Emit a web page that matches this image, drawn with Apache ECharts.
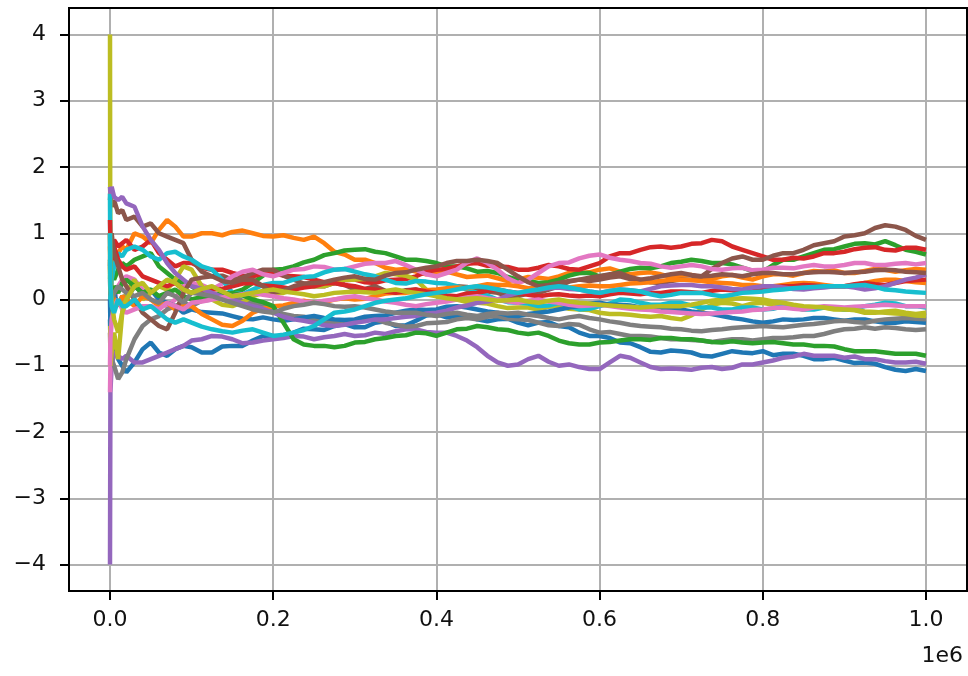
<!DOCTYPE html>
<html>
<head>
<meta charset="utf-8">
<script src="https://cdn.jsdelivr.net/npm/echarts@6/dist/echarts.min.js"></script>
<style>
html,body{margin:0;padding:0;background:#fff;}
#chart{width:968px;height:676px;}
</style>
</head>
<body>
<div id="chart"></div>
<script>
// x positions (step index) shared by all walks
const xs = [0, 500, 2000, 5000, 10000, 15000, 20000, 30000, 40000, 50000,
  60000, 70000, 80000, 90000,
  100000, 112500, 125000, 137500, 150000, 162500, 175000, 187500, 200000, 212500,
  225000, 237500, 250000, 262500, 275000, 287500, 300000, 312500, 325000, 337500,
  350000, 362500, 375000, 387500, 400000, 412500, 425000, 437500, 450000, 462500,
  475000, 487500, 500000, 512500, 525000, 537500, 550000, 562500, 575000, 587500,
  600000, 612500, 625000, 637500, 650000, 662500, 675000, 687500, 700000, 712500,
  725000, 737500, 750000, 762500, 775000, 787500, 800000, 812500, 825000, 837500,
  850000, 862500, 875000, 887500, 900000, 912500, 925000, 937500, 950000, 962500,
  975000, 987500, 1000000];

const xTicks = [0, 200000, 400000, 600000, 800000, 1000000];
const yTicks = [-4, -3, -2, -1, 0, 1, 2, 3, 4];
const offsetLabel = '1e6';

const walk0 = [-0.3, -0.6, -0.8, -0.7, -0.9, -1.0, -1.1, -0.95, -0.75, -0.65, -0.8, -0.85, -0.75, -0.7,
  -0.72, -0.8, -0.8, -0.71, -0.7, -0.7, -0.62, -0.55, -0.55, -0.56, -0.5, -0.44, -0.45, -0.46, -0.4, -0.37,
  -0.42, -0.42, -0.35, -0.33, -0.4, -0.39, -0.32, -0.24, -0.22, -0.27, -0.25, -0.24, -0.3, -0.33, -0.3, -0.29,
  -0.35, -0.39, -0.35, -0.34, -0.4, -0.42, -0.5, -0.55, -0.55, -0.58, -0.65, -0.66, -0.72, -0.79, -0.8, -0.77,
  -0.78, -0.8, -0.85, -0.86, -0.82, -0.78, -0.8, -0.81, -0.78, -0.84, -0.82, -0.82, -0.85, -0.9, -0.9, -0.88,
  -0.92, -0.96, -0.95, -0.97, -1.02, -1.06, -1.08, -1.05, -1.08];
const walk1 = [0.5, 0.3, 0.6, 0.5, 0.7, 0.8, 0.75, 1.0, 0.95, 0.85, 1.05, 1.2, 1.1, 0.95,
  0.95, 1.0, 1.0, 0.97, 1.02, 1.04, 1.0, 0.96, 0.95, 0.97, 0.93, 0.9, 0.95, 0.85, 0.72, 0.68,
  0.6, 0.6, 0.55, 0.48, 0.45, 0.46, 0.42, 0.38, 0.4, 0.42, 0.38, 0.34, 0.35, 0.36, 0.32, 0.28,
  0.3, 0.34, 0.33, 0.31, 0.35, 0.4, 0.4, 0.41, 0.45, 0.47, 0.42, 0.38, 0.4, 0.41, 0.38, 0.34,
  0.36, 0.37, 0.33, 0.31, 0.35, 0.37, 0.33, 0.3, 0.35, 0.38, 0.38, 0.36, 0.4, 0.43, 0.42, 0.44,
  0.4, 0.4, 0.43, 0.46, 0.45, 0.42, 0.44, 0.46, 0.45];
const walk2 = [0.3, 0.8, 0.4, 0.3, 0.45, 0.55, 0.5, 0.6, 0.65, 0.7, 0.5, 0.4, 0.3, 0.25,
  0.2, 0.1, 0.05, 0.1, 0.1, 0.15, 0.25, 0.36, 0.45, 0.46, 0.5, 0.56, 0.6, 0.67, 0.7, 0.74,
  0.75, 0.76, 0.72, 0.7, 0.65, 0.6, 0.6, 0.58, 0.55, 0.5, 0.5, 0.47, 0.42, 0.43, 0.4, 0.34,
  0.3, 0.28, 0.25, 0.26, 0.3, 0.36, 0.4, 0.4, 0.35, 0.37, 0.42, 0.46, 0.48, 0.47, 0.5, 0.55,
  0.57, 0.6, 0.58, 0.55, 0.55, 0.53, 0.48, 0.43, 0.42, 0.52, 0.6, 0.6, 0.65, 0.7, 0.75, 0.76,
  0.8, 0.84, 0.85, 0.83, 0.88, 0.82, 0.75, 0.72, 0.68];
const walk3 = [1.0, 0.5, 0.7, 0.9, 0.8, 0.85, 0.9, 0.75, 0.8, 0.9, 0.7, 0.6, 0.5, 0.55,
  0.55, 0.48, 0.45, 0.45, 0.4, 0.36, 0.35, 0.39, 0.4, 0.36, 0.35, 0.34, 0.3, 0.26, 0.25, 0.29,
  0.3, 0.26, 0.25, 0.29, 0.3, 0.31, 0.35, 0.42, 0.45, 0.46, 0.5, 0.54, 0.55, 0.51, 0.5, 0.49,
  0.45, 0.45, 0.48, 0.52, 0.5, 0.46, 0.45, 0.5, 0.55, 0.65, 0.7, 0.7, 0.75, 0.79, 0.8, 0.78,
  0.8, 0.84, 0.85, 0.9, 0.88, 0.8, 0.75, 0.7, 0.65, 0.6, 0.6, 0.63, 0.62, 0.65, 0.7, 0.7,
  0.72, 0.76, 0.78, 0.79, 0.75, 0.74, 0.78, 0.78, 0.75];
const walk4 = [-4.0, -1.4, -1.0, -0.8, -0.85, -0.9, -0.85, -0.95, -0.95, -0.9, -0.85, -0.8, -0.75, -0.7,
  -0.62, -0.6, -0.55, -0.56, -0.6, -0.66, -0.65, -0.62, -0.6, -0.58, -0.55, -0.56, -0.6, -0.57, -0.55, -0.52,
  -0.55, -0.54, -0.5, -0.52, -0.48, -0.45, -0.45, -0.49, -0.5, -0.5, -0.55, -0.62, -0.72, -0.85, -0.95, -1.0,
  -0.98, -0.9, -0.85, -0.94, -1.0, -0.98, -1.02, -1.05, -1.05, -0.95, -0.85, -0.88, -0.95, -1.02, -1.05, -1.04,
  -1.05, -1.06, -1.03, -1.02, -1.05, -1.03, -0.98, -0.98, -0.95, -0.92, -0.88, -0.86, -0.82, -0.85, -0.85, -0.85,
  -0.88, -0.86, -0.9, -0.9, -0.93, -0.95, -0.95, -0.94, -0.97];
const walk5 = [1.5, 1.6, 1.4, 1.5, 1.3, 1.35, 1.2, 1.25, 1.1, 1.15, 1.0, 0.95, 0.9, 0.85,
  0.6, 0.42, 0.35, 0.36, 0.3, 0.33, 0.4, 0.45, 0.45, 0.36, 0.3, 0.24, 0.2, 0.2, 0.25, 0.22,
  0.15, 0.16, 0.2, 0.13, 0.1, 0.14, 0.15, 0.11, 0.1, 0.16, 0.2, 0.19, 0.15, 0.12, 0.1, 0.05,
  0.05, 0.09, 0.1, 0.15, 0.2, 0.27, 0.3, 0.28, 0.3, 0.33, 0.35, 0.31, 0.3, 0.26, 0.25, 0.28,
  0.3, 0.3, 0.35, 0.46, 0.55, 0.62, 0.65, 0.6, 0.6, 0.66, 0.7, 0.7, 0.75, 0.82, 0.85, 0.88,
  0.95, 0.97, 1.0, 1.08, 1.12, 1.1, 1.05, 0.96, 0.9];
const walk6 = [-1.4, -1.0, 0.2, 0.0, 0.2, 0.3, 0.35, 0.3, 0.15, 0.0, -0.05, -0.1, 0.0, 0.2,
  0.25, 0.22, 0.15, 0.24, 0.35, 0.42, 0.45, 0.38, 0.35, 0.4, 0.45, 0.46, 0.5, 0.49, 0.45, 0.46,
  0.5, 0.54, 0.55, 0.55, 0.58, 0.52, 0.45, 0.38, 0.35, 0.4, 0.45, 0.56, 0.62, 0.55, 0.45, 0.32,
  0.25, 0.3, 0.4, 0.5, 0.55, 0.56, 0.62, 0.66, 0.68, 0.63, 0.6, 0.58, 0.55, 0.54, 0.5, 0.48,
  0.5, 0.52, 0.5, 0.46, 0.45, 0.47, 0.48, 0.44, 0.45, 0.48, 0.48, 0.47, 0.5, 0.52, 0.5, 0.5,
  0.52, 0.55, 0.55, 0.52, 0.52, 0.54, 0.55, 0.53, 0.55];
const walk7 = [-0.5, -0.8, -0.9, -1.0, -1.2, -1.1, -0.9, -0.6, -0.4, -0.3, -0.25, -0.15, -0.1, -0.05,
  -0.1, -0.02, 0.0, 0.04, 0.05, -0.02, -0.05, -0.08, -0.15, -0.22, -0.25, -0.26, -0.3, -0.34, -0.35, -0.33,
  -0.35, -0.31, -0.3, -0.35, -0.38, -0.41, -0.4, -0.36, -0.35, -0.34, -0.3, -0.28, -0.3, -0.26, -0.25, -0.29,
  -0.3, -0.31, -0.35, -0.39, -0.4, -0.37, -0.38, -0.45, -0.5, -0.49, -0.52, -0.55, -0.55, -0.56, -0.58, -0.6,
  -0.6, -0.61, -0.62, -0.64, -0.62, -0.6, -0.6, -0.62, -0.6, -0.58, -0.58, -0.57, -0.55, -0.55, -0.52, -0.48,
  -0.45, -0.44, -0.42, -0.44, -0.42, -0.43, -0.45, -0.46, -0.45];
const walk8 = [4.0, -1.0, -0.8, -0.5, -0.9, -0.2, 0.1, 0.3, 0.0, 0.1, 0.2, 0.15, 0.3, 0.5,
  0.45, 0.2, 0.0, -0.08, -0.1, -0.04, 0.05, 0.1, 0.1, 0.1, 0.15, 0.2, 0.2, 0.2, 0.25, 0.3,
  0.3, 0.31, 0.35, 0.4, 0.38, 0.36, 0.3, 0.15, 0.05, 0.04, 0.0, -0.04, -0.05, -0.06, -0.1, -0.13,
  -0.12, -0.12, -0.15, -0.11, -0.1, -0.14, -0.15, -0.16, -0.2, -0.22, -0.22, -0.23, -0.25, -0.26, -0.25, -0.28,
  -0.3, -0.24, -0.15, -0.08, -0.05, -0.06, -0.1, -0.06, -0.05, -0.08, -0.1, -0.12, -0.15, -0.12, -0.12, -0.15,
  -0.15, -0.16, -0.2, -0.2, -0.18, -0.17, -0.2, -0.22, -0.2];
const walk9 = [1.6, -0.3, 0.3, 0.5, 0.7, 0.65, 0.75, 0.8, 0.75, 0.65, 0.6, 0.7, 0.72, 0.65,
  0.6, 0.5, 0.45, 0.3, 0.1, 0.08, 0.15, 0.22, 0.25, 0.25, 0.3, 0.34, 0.35, 0.41, 0.45, 0.46,
  0.42, 0.38, 0.35, 0.3, 0.25, 0.24, 0.28, 0.27, 0.25, 0.24, 0.2, 0.15, 0.1, 0.06, 0.0, -0.04,
  -0.05, -0.06, -0.1, -0.09, -0.05, -0.1, -0.15, -0.14, -0.1, -0.06, 0.0, -0.01, -0.05, -0.08, -0.08, -0.05,
  -0.05, -0.09, -0.12, -0.12, -0.15, -0.15, -0.12, -0.12, -0.15, -0.14, -0.1, -0.12, -0.15, -0.15, -0.12, -0.12,
  -0.15, -0.14, -0.1, -0.08, -0.05, -0.06, -0.1, -0.1, -0.12];
const walk10 = [0.0, -0.4, -0.2, 0.1, -0.1, 0.05, 0.0, 0.2, 0.1, 0.15, 0.0, -0.05, -0.1, -0.2,
  -0.15, -0.19, -0.2, -0.21, -0.25, -0.29, -0.3, -0.27, -0.3, -0.32, -0.3, -0.27, -0.25, -0.28, -0.3, -0.31,
  -0.3, -0.26, -0.25, -0.24, -0.2, -0.17, -0.15, -0.16, -0.15, -0.11, -0.1, -0.12, -0.15, -0.18, -0.2, -0.24,
  -0.25, -0.22, -0.2, -0.18, -0.15, -0.12, -0.1, -0.06, -0.05, -0.08, -0.08, -0.09, -0.12, -0.13, -0.15, -0.14,
  -0.15, -0.18, -0.2, -0.22, -0.25, -0.28, -0.3, -0.33, -0.35, -0.33, -0.3, -0.31, -0.3, -0.28, -0.28, -0.3,
  -0.32, -0.3, -0.3, -0.33, -0.35, -0.35, -0.33, -0.34, -0.35];
const walk11 = [0.8, 0.4, 0.1, 0.0, -0.1, 0.05, 0.0, -0.1, 0.05, 0.0, -0.1, -0.05, -0.15, -0.1,
  -0.1, -0.22, -0.3, -0.38, -0.4, -0.32, -0.2, -0.14, -0.1, -0.09, -0.05, -0.02, -0.05, -0.04, 0.0, 0.02,
  0.0, 0.01, 0.05, 0.09, 0.1, 0.1, 0.12, 0.14, 0.15, 0.17, 0.18, 0.17, 0.2, 0.23, 0.22, 0.22,
  0.2, 0.17, 0.18, 0.2, 0.18, 0.18, 0.2, 0.21, 0.2, 0.2, 0.22, 0.24, 0.25, 0.26, 0.28, 0.3,
  0.3, 0.29, 0.28, 0.26, 0.25, 0.24, 0.22, 0.22, 0.2, 0.2, 0.22, 0.24, 0.25, 0.24, 0.22, 0.2,
  0.2, 0.22, 0.25, 0.28, 0.3, 0.3, 0.28, 0.26, 0.25];
const walk12 = [0.6, 0.2, 0.0, 0.2, 0.1, 0.25, 0.3, 0.2, 0.1, 0.15, 0.05, 0.1, 0.15, 0.05,
  0.0, 0.04, 0.05, 0.06, 0.1, 0.06, 0.0, -0.04, -0.1, -0.35, -0.6, -0.68, -0.7, -0.7, -0.72, -0.7,
  -0.65, -0.64, -0.6, -0.58, -0.55, -0.54, -0.5, -0.51, -0.55, -0.5, -0.45, -0.44, -0.4, -0.42, -0.45, -0.46,
  -0.5, -0.52, -0.5, -0.55, -0.62, -0.66, -0.68, -0.68, -0.65, -0.64, -0.62, -0.6, -0.6, -0.61, -0.58, -0.58,
  -0.6, -0.6, -0.62, -0.64, -0.65, -0.63, -0.65, -0.66, -0.65, -0.64, -0.66, -0.68, -0.68, -0.7, -0.7, -0.71,
  -0.75, -0.78, -0.78, -0.78, -0.8, -0.82, -0.82, -0.82, -0.85];
const walk13 = [1.2, 0.9, 0.6, 0.8, 0.6, 0.5, 0.45, 0.5, 0.35, 0.3, 0.25, 0.2, 0.25, 0.15,
  0.1, 0.14, 0.15, 0.16, 0.2, 0.24, 0.25, 0.21, 0.2, 0.18, 0.15, 0.18, 0.2, 0.24, 0.25, 0.22,
  0.2, 0.16, 0.15, 0.12, 0.1, 0.13, 0.15, 0.12, 0.1, 0.06, 0.05, 0.09, 0.1, 0.13, 0.15, 0.12,
  0.1, 0.07, 0.05, 0.07, 0.08, 0.06, 0.05, 0.06, 0.05, 0.08, 0.1, 0.09, 0.08, 0.1, 0.1, 0.12,
  0.12, 0.11, 0.1, 0.13, 0.15, 0.14, 0.12, 0.14, 0.15, 0.18, 0.2, 0.2, 0.22, 0.21, 0.2, 0.2,
  0.2, 0.23, 0.25, 0.23, 0.22, 0.25, 0.28, 0.29, 0.3];
const walk14 = [1.7, 1.6, 1.7, 1.55, 1.5, 1.55, 1.45, 1.4, 1.1, 0.9, 0.75, 0.55, 0.4, 0.3,
  0.2, 0.16, 0.1, 0.04, 0.0, -0.06, -0.1, -0.14, -0.2, -0.26, -0.3, -0.32, -0.35, -0.39, -0.4, -0.38,
  -0.35, -0.33, -0.3, -0.3, -0.28, -0.26, -0.25, -0.21, -0.2, -0.17, -0.12, -0.09, -0.05, -0.03, 0.0, 0.06,
  0.1, 0.12, 0.15, 0.17, 0.18, 0.16, 0.15, 0.12, 0.1, 0.13, 0.15, 0.14, 0.12, 0.16, 0.2, 0.21,
  0.22, 0.22, 0.2, 0.2, 0.18, 0.16, 0.15, 0.18, 0.2, 0.2, 0.18, 0.16, 0.15, 0.17, 0.18, 0.2,
  0.2, 0.18, 0.15, 0.17, 0.2, 0.25, 0.3, 0.33, 0.38];
const walk15 = [0.5, 0.8, 1.0, 0.7, 0.5, 0.3, 0.2, 0.0, -0.2, -0.3, -0.4, -0.45, -0.2, 0.1,
  0.3, 0.33, 0.35, 0.28, 0.25, 0.3, 0.3, 0.2, 0.1, 0.14, 0.2, 0.24, 0.25, 0.26, 0.3, 0.33,
  0.35, 0.31, 0.3, 0.36, 0.4, 0.41, 0.45, 0.48, 0.5, 0.55, 0.58, 0.58, 0.6, 0.58, 0.55, 0.45,
  0.35, 0.26, 0.2, 0.22, 0.25, 0.28, 0.3, 0.33, 0.35, 0.38, 0.4, 0.34, 0.3, 0.32, 0.35, 0.38,
  0.4, 0.37, 0.35, 0.36, 0.38, 0.37, 0.35, 0.38, 0.4, 0.4, 0.38, 0.38, 0.4, 0.41, 0.42, 0.41,
  0.4, 0.41, 0.42, 0.44, 0.45, 0.44, 0.42, 0.41, 0.4];
const walk16 = [-1.0, -0.6, -0.3, -0.1, 0.0, -0.15, -0.2, -0.15, -0.1, -0.1, -0.15, -0.05, -0.1, -0.15,
  -0.05, -0.03, 0.0, 0.03, 0.05, 0.08, 0.1, 0.07, 0.05, 0.02, 0.0, -0.03, -0.05, -0.02, 0.0, 0.03,
  0.05, 0.02, 0.0, -0.03, -0.05, -0.08, -0.1, -0.07, -0.05, -0.03, 0.0, 0.03, 0.05, 0.02, 0.0, -0.03,
  -0.05, -0.02, 0.0, -0.03, -0.05, -0.08, -0.1, -0.09, -0.08, -0.1, -0.12, -0.14, -0.15, -0.16, -0.18, -0.19,
  -0.2, -0.21, -0.22, -0.21, -0.2, -0.19, -0.18, -0.16, -0.15, -0.13, -0.12, -0.14, -0.15, -0.12, -0.1, -0.11,
  -0.12, -0.11, -0.1, -0.09, -0.08, -0.09, -0.1, -0.1, -0.1];
const walk17 = [0.3, 0.1, 0.0, 0.1, 0.2, 0.15, 0.1, 0.05, 0.1, 0.0, -0.05, 0.1, 0.05, -0.05,
  0.1, 0.08, 0.05, 0.0, -0.05, -0.1, -0.15, -0.18, -0.2, -0.14, -0.1, -0.08, -0.05, -0.07, -0.1, -0.11,
  -0.1, -0.12, -0.15, -0.18, -0.2, -0.2, -0.2, -0.23, -0.25, -0.22, -0.2, -0.23, -0.25, -0.22, -0.2, -0.21,
  -0.2, -0.23, -0.25, -0.28, -0.3, -0.27, -0.25, -0.28, -0.3, -0.33, -0.35, -0.38, -0.4, -0.41, -0.42, -0.44,
  -0.45, -0.47, -0.48, -0.46, -0.45, -0.43, -0.42, -0.41, -0.4, -0.41, -0.42, -0.4, -0.38, -0.37, -0.35, -0.33,
  -0.32, -0.34, -0.35, -0.32, -0.3, -0.29, -0.28, -0.29, -0.3];
const walk18 = [1.0, 0.2, 0.0, -0.3, -0.5, -0.2, 0.0, 0.2, 0.25, 0.1, 0.2, 0.3, 0.25, 0.15,
  0.1, 0.16, 0.2, 0.12, 0.05, 0.07, 0.1, 0.13, 0.15, 0.12, 0.1, 0.08, 0.05, 0.07, 0.1, 0.11,
  0.12, 0.11, 0.1, 0.13, 0.15, 0.12, 0.1, 0.08, 0.05, 0.02, 0.0, 0.01, 0.02, 0.0, -0.02, -0.01,
  0.0, -0.03, -0.05, -0.02, 0.0, -0.03, -0.05, -0.06, -0.08, -0.09, -0.1, -0.11, -0.12, -0.11, -0.1, -0.1,
  -0.1, -0.08, -0.05, -0.02, 0.0, 0.01, 0.02, 0.01, 0.0, -0.03, -0.05, -0.08, -0.1, -0.11, -0.12, -0.14,
  -0.15, -0.16, -0.18, -0.19, -0.2, -0.21, -0.22, -0.24, -0.25];
const walk19 = [1.0, 0.2, -0.1, -0.2, 0.0, -0.1, -0.1, 0.0, -0.15, -0.1, -0.2, -0.3, -0.35, -0.3,
  -0.35, -0.41, -0.45, -0.48, -0.5, -0.47, -0.45, -0.5, -0.55, -0.53, -0.5, -0.46, -0.4, -0.3, -0.2, -0.18,
  -0.15, -0.1, -0.05, -0.02, 0.0, 0.02, 0.05, 0.08, 0.1, 0.12, 0.15, 0.18, 0.2, 0.18, 0.15, 0.12,
  0.1, 0.13, 0.15, 0.18, 0.2, 0.18, 0.15, 0.12, 0.1, 0.13, 0.15, 0.14, 0.12, 0.08, 0.05, 0.07,
  0.1, 0.1, 0.1, 0.07, 0.05, 0.07, 0.1, 0.11, 0.12, 0.14, 0.15, 0.17, 0.18, 0.19, 0.2, 0.2,
  0.2, 0.21, 0.22, 0.19, 0.15, 0.14, 0.12, 0.11, 0.1];

const walks = [walk0, walk1, walk2, walk3, walk4, walk5, walk6, walk7, walk8, walk9,
  walk10, walk11, walk12, walk13, walk14, walk15, walk16, walk17, walk18, walk19];
const palette = ['#1f77b4', '#ff7f0e', '#2ca02c', '#d62728', '#9467bd',
  '#8c564b', '#e377c2', '#7f7f7f', '#bcbd22', '#17becf'];

const FONT = 'DejaVu Sans';
const FS = 22;

const chart = echarts.init(document.getElementById('chart'), null, {renderer: 'canvas'});

const series = walks.map((w, k) => ({
  type: 'line',
  xAxisIndex: 1,
  yAxisIndex: 1,
  showSymbol: false,
  symbol: 'none',
  silent: true,
  data: w.map((v, i) => [xs[i], v]),
  lineStyle: {color: palette[k % 10], width: 4.5},
  itemStyle: {color: palette[k % 10]},
  z: 3
}));

const xMin = xTicks[0], xMax = xTicks[xTicks.length - 1];
const yMin = yTicks[0], yMax = yTicks[yTicks.length - 1];
const padY = (yMax - yMin) * 0.05;

chart.setOption({
  animation: false,
  backgroundColor: '#fff',
  grid: [
    {left: 69, top: 8, width: 898, height: 583, show: true, borderColor: '#000', borderWidth: 2, backgroundColor: 'transparent', z: 4},
    {left: 110, top: 8, width: 816, height: 583},
    {left: 69, top: 34.5, width: 898, height: 530}
  ],
  xAxis: [
    {gridIndex: 0, type: 'value', min: 0, max: 1, show: false},
    {gridIndex: 1, type: 'value', min: xMin, max: xMax, interval: xTicks[1] - xTicks[0],
      axisLine: {show: false, onZero: false},
      axisTick: {show: true, length: 9, lineStyle: {color: '#000', width: 2}},
      axisLabel: {margin: 18, color: '#111', fontFamily: FONT, fontSize: FS,
        formatter: v => (v / 1e6).toFixed(1)},
      splitLine: {show: true, lineStyle: {color: '#b0b0b0', width: 2}}},
    {gridIndex: 2, type: 'value', min: 0, max: 1, show: false}
  ],
  yAxis: [
    {gridIndex: 0, type: 'value', min: 0, max: 1, show: false},
    {gridIndex: 1, type: 'value', min: yMin - padY, max: yMax + padY, show: false},
    {gridIndex: 2, type: 'value', min: yMin, max: yMax, interval: yTicks[1] - yTicks[0],
      axisLine: {show: false, onZero: false},
      axisTick: {show: true, length: 9, lineStyle: {color: '#000', width: 2}},
      axisLabel: {margin: 23, color: '#111', fontFamily: FONT, fontSize: FS,
        formatter: v => (v < 0 ? '\u2212' + Math.abs(v) : String(v))},
      splitLine: {show: true, lineStyle: {color: '#b0b0b0', width: 2}}}
  ],
  graphic: [
    {type: 'text', right: 5, top: 645,
      style: {text: offsetLabel, font: FS + 'px "' + FONT + '"', fill: '#111'}}
  ],
  series: series
});
</script>
</body>
</html>
